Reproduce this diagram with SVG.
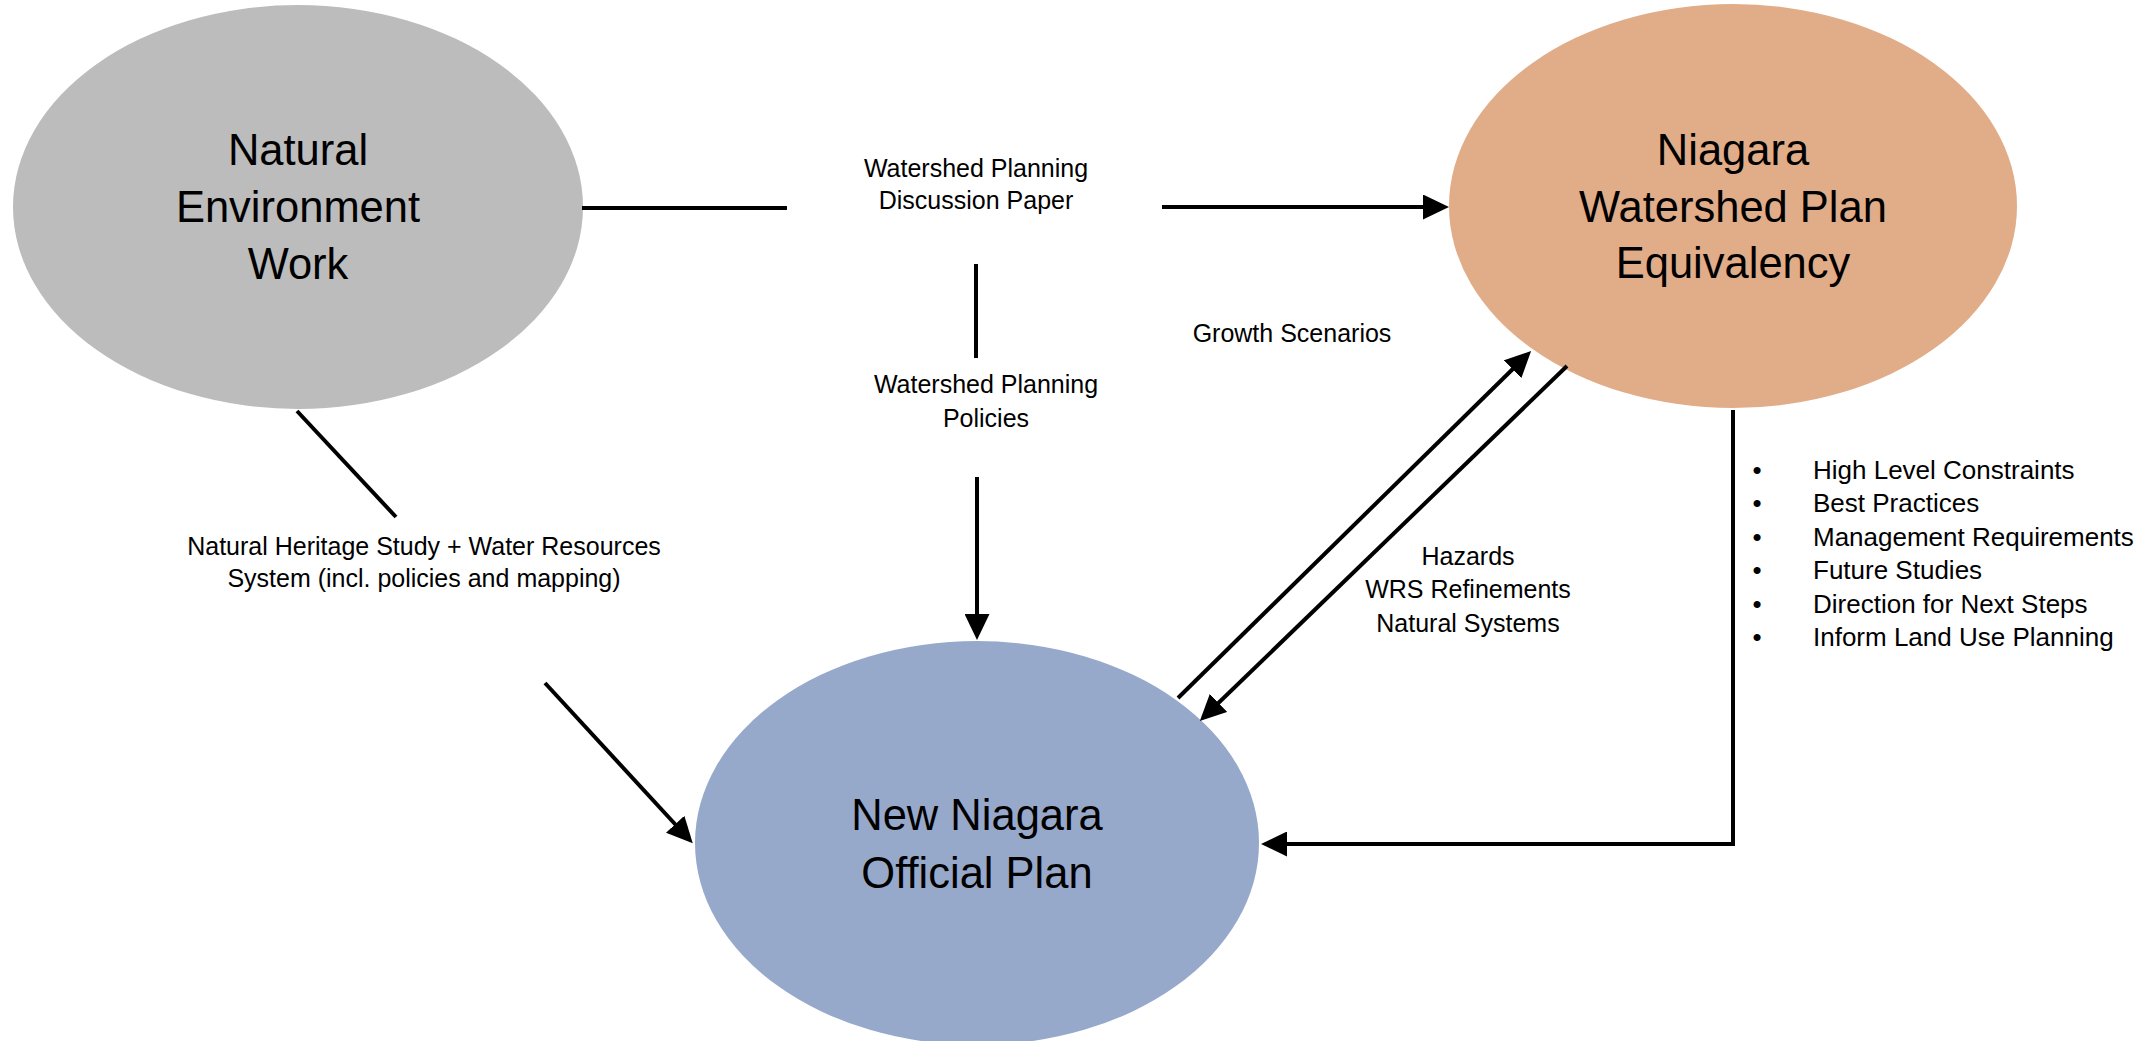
<svg xmlns="http://www.w3.org/2000/svg" width="2147" height="1041" viewBox="0 0 2147 1041">
  <style>
    .node-title { font-family: "Liberation Sans", Arial, sans-serif; font-size: 43.5px; fill: #000; text-anchor: middle; }
    .label { font-family: "Liberation Sans", Arial, sans-serif; font-size: 25px; fill: #000; text-anchor: middle; }
    .bullet { font-family: "Liberation Sans", Arial, sans-serif; font-size: 26px; fill: #000; }
    .conn { stroke: #000; stroke-width: 4; fill: none; }
  </style>
  <defs>
    <marker id="arrow" markerUnits="userSpaceOnUse" markerWidth="26" markerHeight="25" refX="16" refY="12.5" orient="auto">
      <path d="M0,0 L26,12.5 L0,25 Z" fill="#000"/>
    </marker>
  </defs>
  <rect width="2147" height="1041" fill="#fff"/>

  <g id="node-natural-environment">
    <ellipse cx="298" cy="207" rx="285" ry="202" fill="#BCBCBC"/>
    <text class="node-title" x="298" y="165">Natural</text>
    <text class="node-title" x="298" y="222">Environment</text>
    <text class="node-title" x="298" y="279">Work</text>
  </g>

  <g id="node-watershed-plan">
    <ellipse cx="1733" cy="206" rx="284" ry="202" fill="#E1AC88"/>
    <text class="node-title" x="1733" y="165">Niagara</text>
    <text class="node-title" x="1733" y="222">Watershed Plan</text>
    <text class="node-title" x="1733" y="278">Equivalency</text>
  </g>

  <g id="node-official-plan">
    <ellipse cx="977" cy="843" rx="282" ry="202" fill="#97A9CB"/>
    <text class="node-title" x="977" y="830">New Niagara</text>
    <text class="node-title" x="977" y="888">Official Plan</text>
  </g>

  <g id="connectors">
    <line class="conn" x1="582" y1="208" x2="787" y2="208"/>
    <line class="conn" x1="1162" y1="207" x2="1439" y2="207" marker-end="url(#arrow)"/>
    <line class="conn" x1="976" y1="264" x2="976" y2="358"/>
    <line class="conn" x1="977" y1="477" x2="977" y2="630" marker-end="url(#arrow)"/>
    <line class="conn" x1="1178" y1="698" x2="1524" y2="358" marker-end="url(#arrow)"/>
    <line class="conn" x1="1567" y1="366" x2="1207" y2="714" marker-end="url(#arrow)"/>
    <polyline class="conn" points="1733,410 1733,844 1271,844" marker-end="url(#arrow)"/>
    <line class="conn" x1="297" y1="411" x2="396" y2="517"/>
    <line class="conn" x1="545" y1="683" x2="686" y2="836" marker-end="url(#arrow)"/>
  </g>

  <g id="labels">
    <text class="label" x="976" y="177">Watershed Planning</text>
    <text class="label" x="976" y="209">Discussion Paper</text>
    <text class="label" x="986" y="393">Watershed Planning</text>
    <text class="label" x="986" y="427">Policies</text>
    <text class="label" x="1292" y="342">Growth Scenarios</text>
    <text class="label" x="1468" y="565">Hazards</text>
    <text class="label" x="1468" y="598">WRS Refinements</text>
    <text class="label" x="1468" y="632">Natural Systems</text>
    <text class="label" x="424" y="555">Natural Heritage Study + Water Resources</text>
    <text class="label" x="424" y="587">System (incl. policies and mapping)</text>
  </g>

  <g id="bullet-list">
    <text class="bullet" x="1757" y="479" text-anchor="middle">•</text>
    <text class="bullet" x="1813" y="479">High Level Constraints</text>
    <text class="bullet" x="1757" y="512" text-anchor="middle">•</text>
    <text class="bullet" x="1813" y="512">Best Practices</text>
    <text class="bullet" x="1757" y="546" text-anchor="middle">•</text>
    <text class="bullet" x="1813" y="546">Management Requirements</text>
    <text class="bullet" x="1757" y="579" text-anchor="middle">•</text>
    <text class="bullet" x="1813" y="579">Future Studies</text>
    <text class="bullet" x="1757" y="613" text-anchor="middle">•</text>
    <text class="bullet" x="1813" y="613">Direction for Next Steps</text>
    <text class="bullet" x="1757" y="646" text-anchor="middle">•</text>
    <text class="bullet" x="1813" y="646">Inform Land Use Planning</text>
  </g>
</svg>
